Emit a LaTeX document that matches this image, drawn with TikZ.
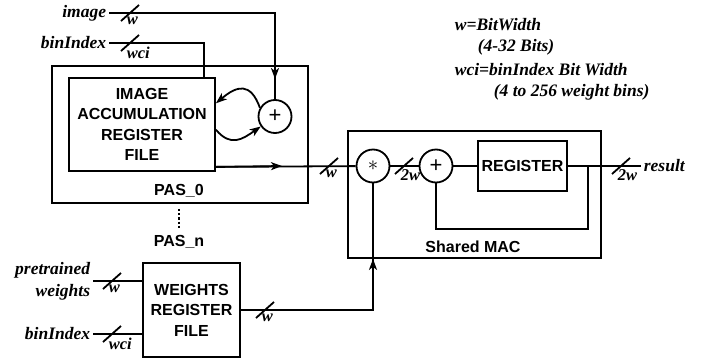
\documentclass[tikz,border=0pt]{standalone}
\usepackage{fontspec}
\setmainfont{Liberation Serif}
\setsansfont{Liberation Sans}
\usepackage{tikz}
\usetikzlibrary{arrows.meta,positioning,calc}
\tikzstyle{blockstyle}=[draw,line width=1.8pt,align=center,inner sep=0pt,font=\sffamily\bfseries\fontsize{16}{20.5}\selectfont]
\tikzstyle{opstyle}=[draw,circle,line width=1.8pt,minimum size=33pt,inner sep=0pt,font=\fontsize{21}{21}\selectfont]
\tikzstyle{boxlabel}=[font=\sffamily\bfseries\fontsize{16}{16}\selectfont]
\tikzstyle{sigstyle}=[font=\bfseries\itshape\fontsize{17.5}{22}\selectfont,inner sep=2pt]
\tikzstyle{widthstyle}=[font=\bfseries\itshape\fontsize{16.5}{16.5}\selectfont,inner sep=0pt,anchor=north west]
\tikzset{bus/.pic={\draw[line width=1.8pt] (-9,8) -- (9,-8); \node[widthstyle] at (-4,3) {#1};}}

\begin{document}
\begin{tikzpicture}[x=1pt,y=-1pt,node distance=50pt,on grid,>={Stealth[length=11pt,width=8pt,inset=3pt]},line width=1.8pt]
	\useasboundingbox (0,0) rectangle (702,362);

	% PAS_0
	\node[blockstyle,minimum width=256pt,minimum height=137pt] (pas) at (180,134.5) {};
	\node[blockstyle,minimum width=146pt,minimum height=93pt] (iar) at (142,124.5) {IMAGE\\ACCUMULATION\\REGISTER\\FILE};
	\node[opstyle,font=\sffamily\fontsize{22}{22}\selectfont] (plusA) at (275,116.5) {+};
	\node[boxlabel] (pas0) at (179,191) {PAS\_0};
	\node[boxlabel] (pasn) [below=51pt of pas0] {PAS\_n};
	\draw[line width=2.2pt,dotted] ($(pas.south -| pasn.north)+(0,5)$) -- ($(pasn.north)+(0,-3)$);

	\node[sigstyle,anchor=east] (image) at (109,13) {image};
	\node[sigstyle,anchor=east] (binA) at (109,43) {binIndex};
	\coordinate (imgarr) at (275,79);
	\coordinate (binend) at ($(iar.north west)+(136,0)$);
	\draw (image.east) -| (plusA.north);
	\draw[->] (image.east) -| (imgarr);
	\draw (binA.east) -| (binend);
	\pic at (130,13) {bus=w};
	\pic at (130,43) {bus=wci};

	\draw[->] (plusA.150) to[out=110,in=40,looseness=1.6] (iar.16);
	\draw[->] (iar.-4) to[out=-50,in=215,looseness=1.3] (plusA.215);

	% Shared MAC
	\node[blockstyle,minimum width=253pt,minimum height=127pt] (mac) at (474.5,194.5) {};
	\node[opstyle] (mul) at (373,166) {$\ast$};
	\node[opstyle,font=\sffamily\fontsize{22}{22}\selectfont] (plusB) [right=63pt of mul] {+};
	\node[blockstyle,minimum width=89pt,minimum height=50pt] (reg) at (522.5,166) {REGISTER};
	\node[boxlabel] (maclbl) at (473,247) {Shared MAC};
	\node[sigstyle,anchor=west] (result) at (641,166) {result};

	\coordinate (iarout) at ($(iar.south east)+(0,-5)$);
	\coordinate (iararr) at (282,166);
	\draw (iarout) -- (mul);
	\draw[->] (iarout) -- (iararr);
	\pic at (329,166) {bus=w};

	\draw (mul) -- (plusB);
	\pic at (404,166) {bus=2w};
	\draw (plusB) -- (reg);
	\draw (reg) -- (result);
	\pic at (621,166) {bus=2w};
	\coordinate (tap) at (588,166);
	\coordinate (fbk) at (588,229);
	\draw (tap) -- (fbk) -| (plusB.south);

	% weights
	\node[blockstyle,minimum width=97pt,minimum height=94pt] (wrf) at (191.5,310) {WEIGHTS\\REGISTER\\FILE};
	\node[sigstyle,anchor=east,align=right] (ptw) at (93,281) {pretrained\\weights};
	\node[sigstyle,anchor=east] (binB) at (93,334) {binIndex};
	\draw (ptw.east) -- (ptw.east -| wrf.west);
	\draw (binB.east) -- (binB.east -| wrf.west);
	\pic at (112,281) {bus=w};
	\pic at (112,334) {bus=wci};
	\draw (wrf.east) -| (mul.south);
	\draw[->] (wrf.east) -| (mac.south -| mul.south);
	\pic at (265,310) {bus=w};

	% key
	\node[sigstyle,anchor=west] (key1) at (452,25) {w=BitWidth};
	\node[sigstyle,anchor=west] (key2) at (475,47) {(4-32 Bits)};
	\node[sigstyle,anchor=west] (key3) at (452,70) {wci=binIndex Bit Width};
	\node[sigstyle,anchor=west] (key4) at (491,92) {(4 to 256 weight bins)};
\end{tikzpicture}
\end{document}
